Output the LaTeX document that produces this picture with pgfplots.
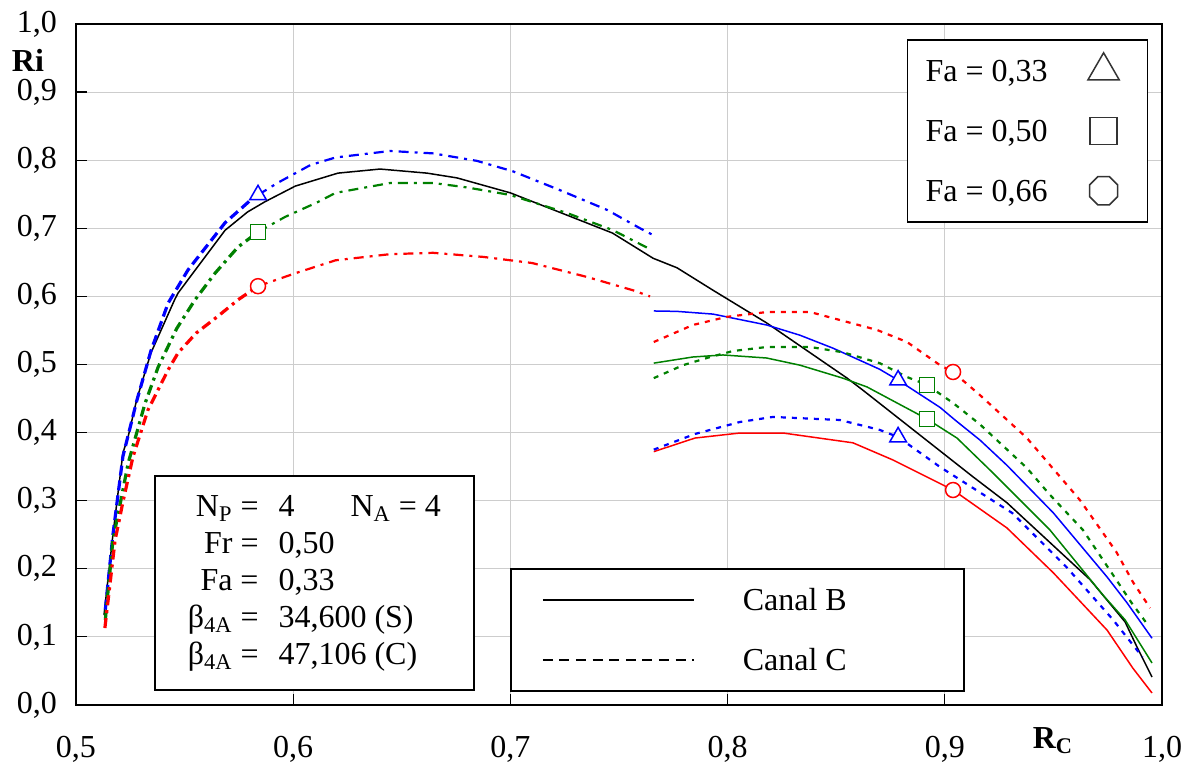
\documentclass[border=0pt]{standalone}
\usepackage{pgfplots}
\pgfplotsset{compat=1.18}
\usepackage{fontspec}
\setmainfont{Liberation Serif}
\definecolor{dgreen}{RGB}{0,128,0}
\definecolor{gridgray}{RGB}{205,205,205}
\pgfdeclareplotmark{octagon}{%
\pgfpathmoveto{\pgfpointpolar{22.5}{\pgfplotmarksize}}%
\pgfpathlineto{\pgfpointpolar{67.5}{\pgfplotmarksize}}%
\pgfpathlineto{\pgfpointpolar{112.5}{\pgfplotmarksize}}%
\pgfpathlineto{\pgfpointpolar{157.5}{\pgfplotmarksize}}%
\pgfpathlineto{\pgfpointpolar{202.5}{\pgfplotmarksize}}%
\pgfpathlineto{\pgfpointpolar{247.5}{\pgfplotmarksize}}%
\pgfpathlineto{\pgfpointpolar{292.5}{\pgfplotmarksize}}%
\pgfpathlineto{\pgfpointpolar{337.5}{\pgfplotmarksize}}%
\pgfpathclose\pgfusepathqstroke}
\tikzset{
 cB/.style={line width=0.75pt},
 cC/.style={line width=1.1pt, dash pattern=on 2.5pt off 3pt},
 ddA/.style={line width=1.6pt, dash pattern=on 5pt off 2.5pt on 1.5pt off 2.5pt},
 ddB/.style={line width=1.1pt, dash pattern=on 5pt off 3pt on 1.5pt off 3pt},
}
\begin{document}
\fontsize{16}{19}\selectfont
\begin{tikzpicture}
\begin{axis}[name=ax, scale only axis, width=543pt, height=340.5pt,
  xmin=0.5, xmax=1, ymin=0, ymax=1, clip=false,
  xtick={0.5,0.6,0.7,0.8,0.9,1.0}, ytick={0,0.1,0.2,0.3,0.4,0.5,0.6,0.7,0.8,0.9,1.0},
  xtick pos=bottom, ytick pos=left, tick align=inside,
  grid=major, major grid style={draw=gridgray, line width=0.5pt},
  tick style={black, line width=0.6pt}, major tick length=5.5pt,
  axis line style={line width=0.9pt},
  /pgf/number format/assume math mode=true,
  xticklabel style={yshift=-10pt, /pgf/number format/.cd, fixed, fixed zerofill, precision=1, use comma},
  yticklabel style={xshift=-4pt, /pgf/number format/.cd, fixed, fixed zerofill, precision=1, use comma},
  legend plot pos=right, legend cell align=left,
  legend style={at={(0.765,0.978)}, anchor=north west, draw=black, line width=0.8pt, fill=white,
    inner xsep=9pt, inner ysep=8.25pt, row sep=15.5pt, column sep=18pt,
    nodes={inner sep=0pt, text height=12.5pt, text depth=2pt}},
  legend image code/.code={\path[draw=none, fill=none, use as bounding box] (0pt,-7.25pt) rectangle (23pt,7.25pt);
    \draw[#1,/tikz/only marks] plot coordinates {(10pt,0pt)};}
]
% legend images (Fa)
\addlegendimage{black!80, line width=0.75pt, mark=triangle, mark size=9pt}
\addlegendentry{\makebox[61pt][l]{Fa = 0,33}}
\addlegendimage{black!80, line width=0.75pt, mark=square, mark size=6.75pt}
\addlegendentry{\makebox[61pt][l]{Fa = 0,50}}
\addlegendimage{black!80, line width=0.75pt, mark=octagon, mark size=7.6pt}
\addlegendentry{\makebox[61pt][l]{Fa = 0,66}}

% Canal B black full curve
\addplot[black, cB, forget plot] coordinates {
(0.5129,0.132)(0.517,0.250)(0.5216,0.370)(0.524,0.394)(0.528,0.449)(0.5345,0.517)
(0.5454,0.595)(0.547,0.605)(0.5686,0.697)(0.579,0.724)(0.587,0.739)(0.601,0.762)
(0.6206,0.781)(0.640,0.787)(0.6616,0.781)(0.6754,0.774)(0.700,0.752)(0.747,0.693)
(0.7657,0.656)(0.7767,0.642)(0.7933,0.609)(0.818,0.561)(0.855,0.480)(0.862,0.463)
(0.913,0.335)(0.9286,0.297)(0.9669,0.184)(0.983,0.122)(0.9885,0.085)(0.9954,0.041)};

% Left curves (Canal C, dash-dot)
\addplot[blue, line width=1.6pt, dash pattern=on 5pt off 2.5pt, forget plot] coordinates {
(0.5135,0.140)(0.517,0.250)(0.5216,0.365)(0.528,0.447)(0.5345,0.520)(0.5424,0.590)
(0.5516,0.639)(0.5686,0.708)(0.5806,0.742)(0.5838,0.749)};
\addplot[blue, ddB, forget plot] coordinates {
(0.5838,0.749)(0.593,0.767)(0.608,0.793)(0.6195,0.804)(0.6446,0.8135)(0.6644,0.810)
(0.6846,0.799)(0.7012,0.7836)(0.7228,0.756)(0.7445,0.727)(0.7597,0.700)(0.7657,0.690)};
\addplot[dgreen, ddA, forget plot] coordinates {
(0.5135,0.125)(0.517,0.242)(0.5207,0.301)(0.524,0.355)(0.5318,0.443)(0.5378,0.496)
(0.5464,0.553)(0.5548,0.595)(0.564,0.634)(0.5746,0.6725)(0.5838,0.6946)};
\addplot[dgreen, ddB, forget plot] coordinates {
(0.5838,0.6946)(0.5962,0.7166)(0.6114,0.7386)(0.6195,0.752)(0.6446,0.7665)(0.6644,0.7665)
(0.680,0.760)(0.6998,0.749)(0.726,0.7225)(0.747,0.6975)(0.7633,0.671)};
\addplot[red, ddA, forget plot] coordinates {
(0.5133,0.113)(0.518,0.242)(0.5216,0.298)(0.5262,0.364)(0.5331,0.433)(0.5424,0.492)
(0.547,0.517)(0.5553,0.546)(0.5654,0.571)(0.5746,0.595)(0.5838,0.615)};
\addplot[red, ddB, forget plot] coordinates {
(0.5838,0.615)(0.601,0.634)(0.6195,0.653)(0.6446,0.662)(0.6644,0.664)(0.6874,0.658)
(0.710,0.649)(0.7353,0.6285)(0.7564,0.609)(0.7643,0.600)};

% Right: Canal B solid
\addplot[blue, cB, forget plot] coordinates {
(0.766,0.5786)(0.7767,0.578)(0.7933,0.574)(0.818,0.558)(0.8333,0.543)(0.8485,0.524)
(0.870,0.493)(0.8785,0.477)(0.8978,0.437)(0.9047,0.4185)(0.9162,0.389)(0.9286,0.352)
(0.950,0.282)(0.9747,0.188)(0.9839,0.150)(0.9954,0.098)};
\addplot[dgreen, cB, forget plot] coordinates {
(0.766,0.502)(0.784,0.511)(0.7979,0.514)(0.818,0.5095)(0.8333,0.499)(0.853,0.480)
(0.8642,0.467)(0.878,0.4435)(0.8918,0.420)(0.9056,0.392)(0.9208,0.345)(0.9484,0.257)
(0.9728,0.1615)(0.983,0.125)(0.9954,0.0617)};
\addplot[red, cB, forget plot] coordinates {
(0.766,0.372)(0.785,0.392)(0.8057,0.3994)(0.8255,0.3994)(0.8577,0.385)(0.876,0.360)
(0.9038,0.3157)(0.9286,0.260)(0.950,0.194)(0.9747,0.110)(0.9866,0.054)(0.9954,0.0176)};

% Right: Canal C dashed
\addplot[blue, cC, forget plot] coordinates {
(0.766,0.375)(0.785,0.398)(0.8057,0.4156)(0.8209,0.423)(0.8517,0.4185)(0.870,0.404)
(0.8785,0.3935)(0.8978,0.3495)(0.931,0.282)(0.956,0.2026)(0.9775,0.125)(0.991,0.0705)};
\addplot[dgreen, cC, forget plot] coordinates {
(0.766,0.480)(0.7795,0.499)(0.792,0.511)(0.8025,0.5198)(0.818,0.5257)(0.838,0.5257)
(0.853,0.518)(0.870,0.502)(0.8826,0.4816)(0.8918,0.470)(0.9038,0.4435)(0.9162,0.412)
(0.9378,0.348)(0.948,0.310)(0.9636,0.257)(0.979,0.1836)(0.986,0.150)(0.9935,0.1175)};
\addplot[red, cC, forget plot] coordinates {
(0.766,0.533)(0.784,0.558)(0.7997,0.570)(0.818,0.577)(0.838,0.577)(0.855,0.5625)
(0.8688,0.5507)(0.8826,0.533)(0.8978,0.499)(0.9038,0.489)(0.9162,0.455)(0.9378,0.392)
(0.9622,0.301)(0.979,0.2246)(0.9866,0.1806)(0.9945,0.1424)};

% markers
\addplot[only marks, blue, mark=triangle*, mark size=4.8pt, mark options={fill=white, line width=0.75pt, solid}, forget plot]
 coordinates {(0.5838,0.749)(0.8785,0.477)(0.8785,0.3935)};
\addplot[only marks, dgreen, mark=square*, mark size=3.75pt, mark options={fill=white, line width=0.75pt, solid}, forget plot]
 coordinates {(0.5838,0.6946)(0.8918,0.420)(0.8918,0.470)};
\addplot[only marks, red, mark=*, mark size=3.75pt, mark options={fill=white, line width=0.75pt, solid}, forget plot]
 coordinates {(0.5838,0.615)(0.9038,0.3157)(0.9038,0.489)};

% axis labels
\node[font=\bfseries, inner sep=0pt] at (rel axis cs:-0.0442,0.947) {Ri};
\node[font=\bfseries, inner sep=0pt] at (rel axis cs:0.8996,-0.0529) {R\textsubscript{C}};

% info box
\node[draw=black, line width=0.9pt, fill=white, anchor=north west, minimum width=159.5pt,
  minimum height=107pt, inner sep=0pt, font=\fontsize{16}{18.5}\selectfont]
  at (rel axis cs:0.0718,0.338) {%
  \begin{tabular}{@{}r@{\hspace{10pt}}l@{}}
  N\textsubscript{P} = & \makebox[36pt][l]{4}N\textsubscript{A} = 4\\
  Fr = & 0,50\\
  Fa = & 0,33\\
  β\textsubscript{4A} = & 34,600 (S)\\
  β\textsubscript{4A} = & 47,106 (C)
  \end{tabular}};
\end{axis}

\begin{axis}[at={(ax.south west)}, anchor=south west, scale only axis, width=543pt, height=340.5pt,
  hide axis, xmin=0, xmax=1, ymin=0, ymax=1,
  legend cell align=left,
  legend style={at={(0.3996,0.201)}, anchor=north west, draw=black, line width=0.8pt, fill=white,
    inner xsep=16pt, inner ysep=8.25pt, row sep=15.5pt, column sep=24.5pt,
    nodes={inner sep=0pt, text height=12.5pt, text depth=2pt}},
  legend image code/.code={\path[draw=none, fill=none, use as bounding box] (0pt,-7.25pt) rectangle (75.5pt,7.25pt);
    \draw[#1] (0pt,0pt) -- (75.5pt,0pt);}
]
\addlegendimage{black, line width=0.75pt}
\addlegendentry{\makebox[94.5pt][l]{Canal B}}
\addlegendimage{black, line width=1pt, dash pattern=on 5pt off 3.3pt}
\addlegendentry{\makebox[94.5pt][l]{Canal C}}
\end{axis}
\pgfresetboundingbox
\path[use as bounding box] ([shift={(-38pt,-32pt)}]ax.south west) rectangle ([shift={(12pt,12pt)}]ax.north east);
\end{tikzpicture}
\end{document}
